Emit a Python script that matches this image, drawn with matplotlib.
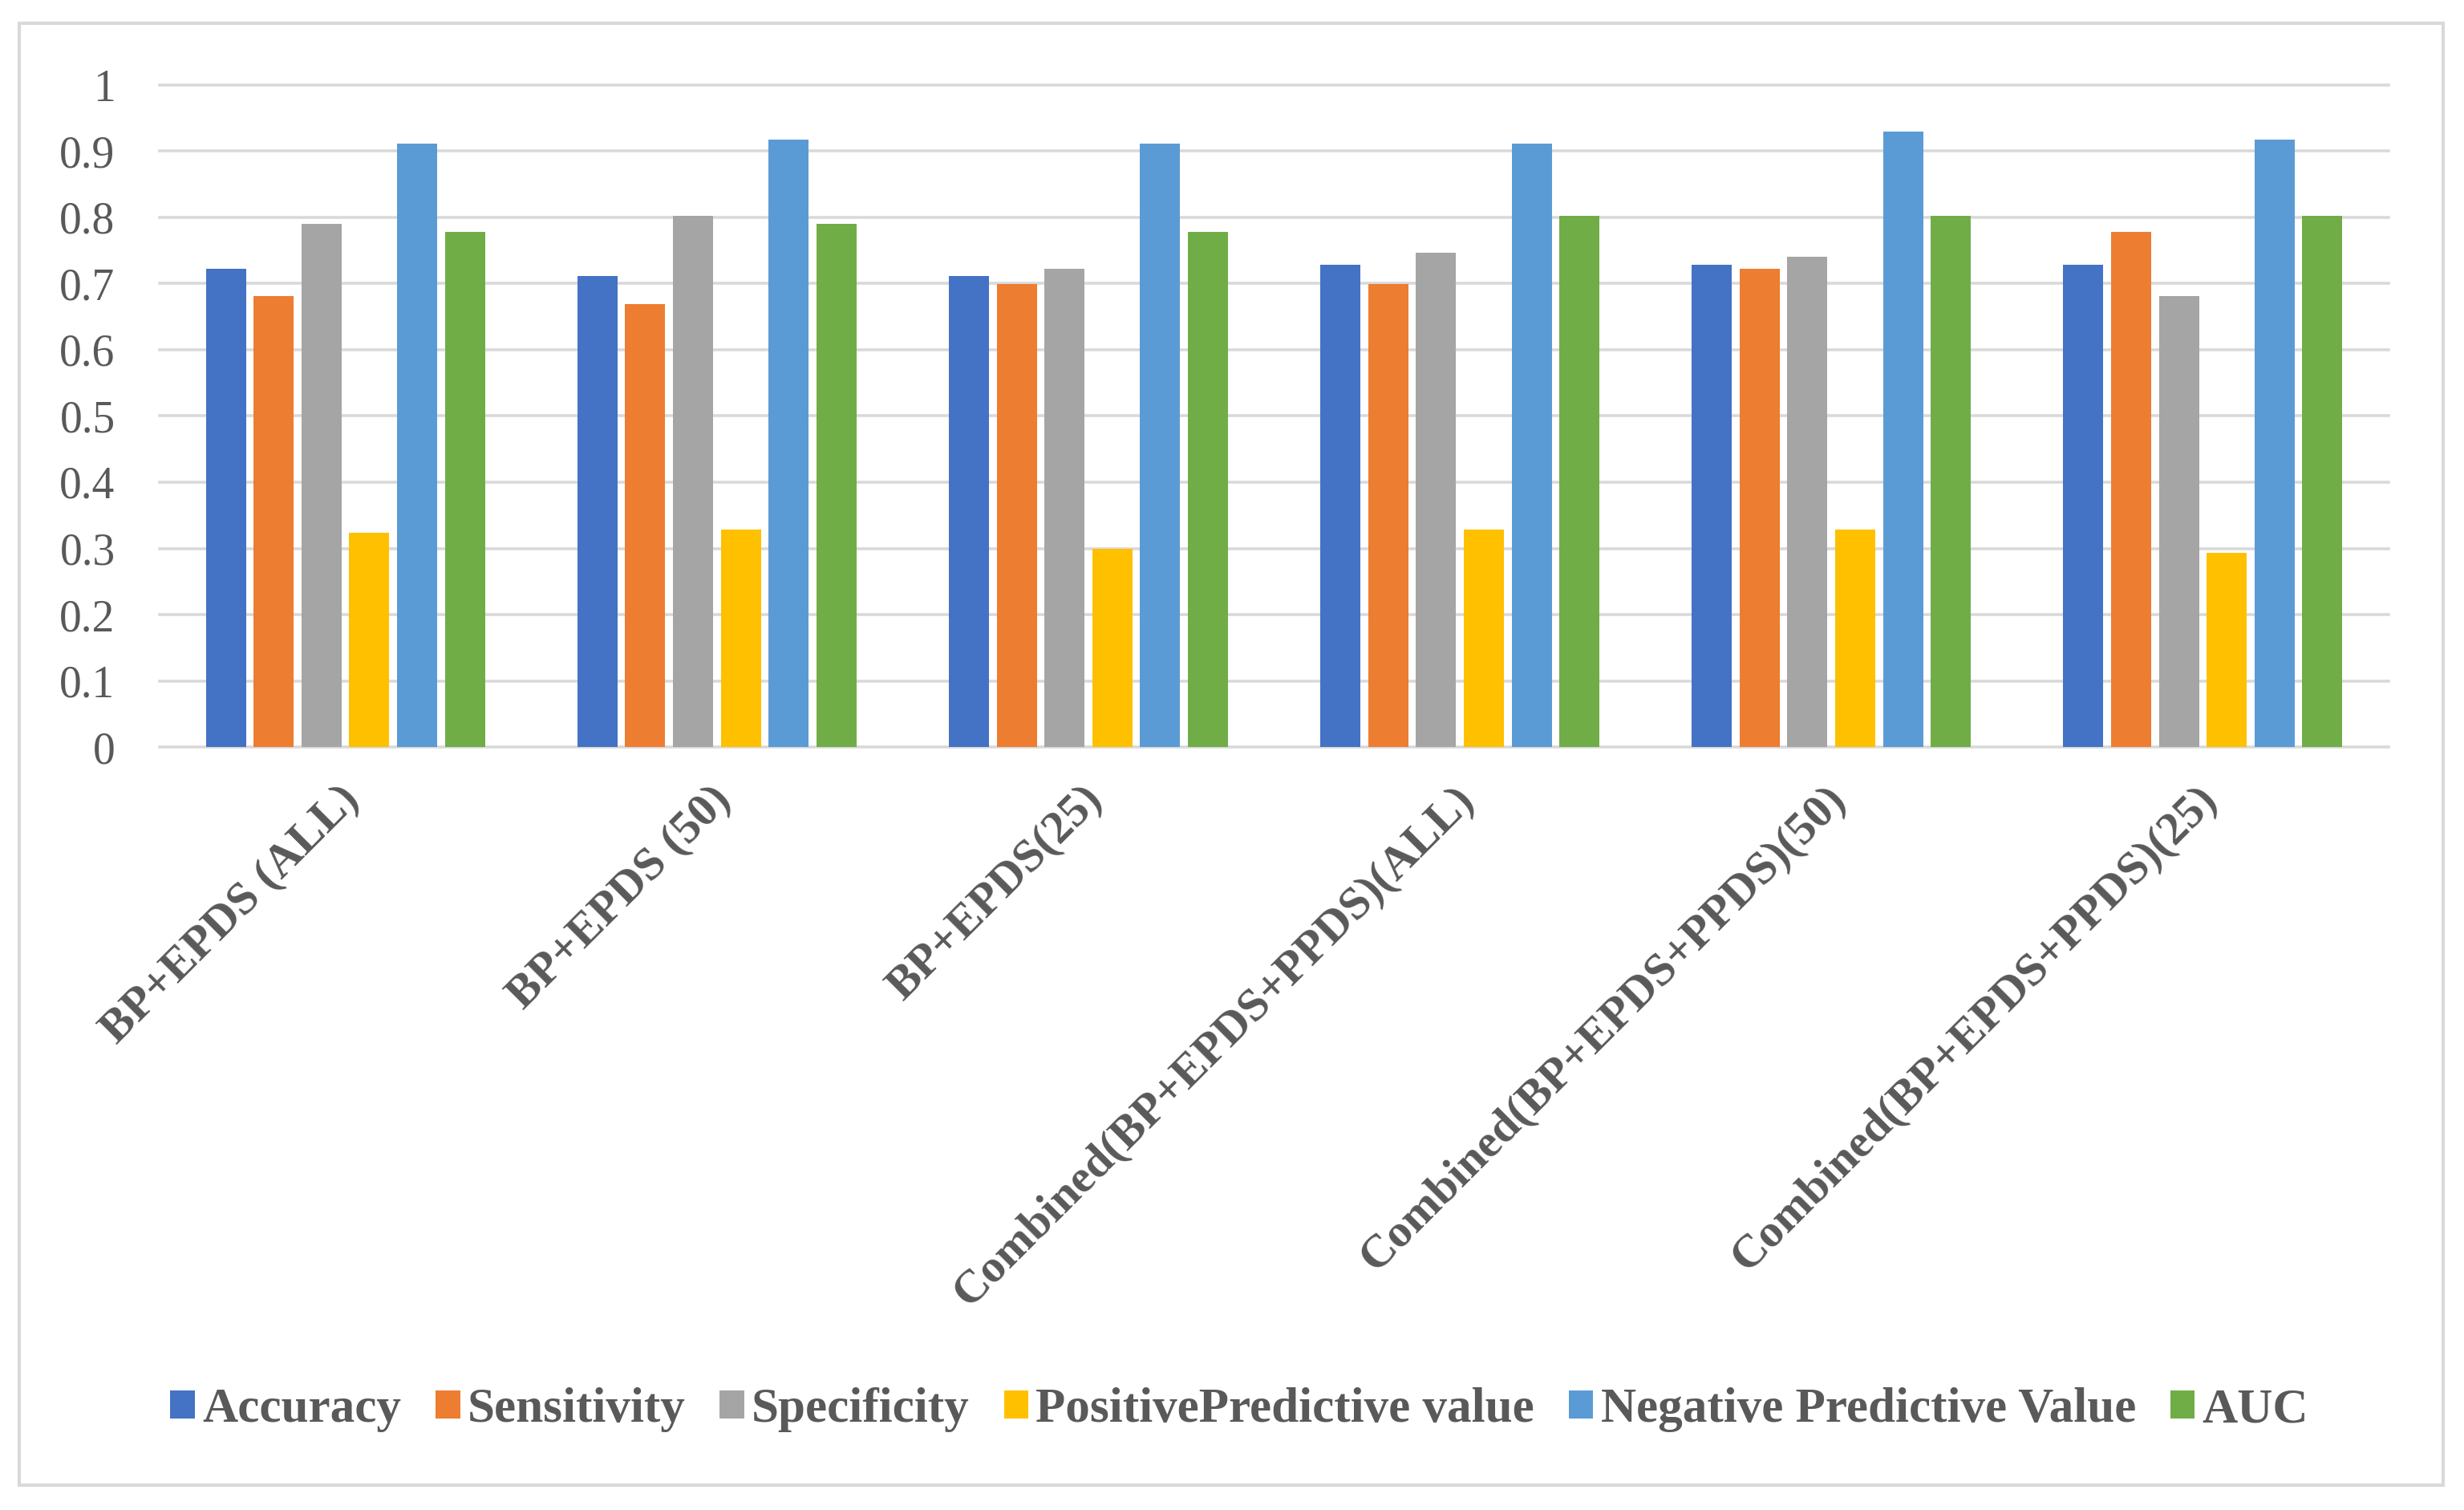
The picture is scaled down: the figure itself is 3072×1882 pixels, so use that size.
import numpy as np
import matplotlib
matplotlib.use("Agg")
import matplotlib.pyplot as plt
import matplotlib.transforms as mtransforms
from matplotlib.patches import Rectangle

# values
groups = ["BP+EPDS (ALL)", "BP+EPDS (50)", "BP+EPDS(25)",
          "Combined(BP+EPDS+PPDS)(ALL)", "Combined(BP+EPDS+PPDS)(50)",
          "Combined(BP+EPDS+PPDS)(25)"]
metrics = ["Accuracy", "Sensitivity", "Specificity", "PositivePredictive value",
           "Negative Predictive Value", "AUC"]

accuracy    = [0.723, 0.711, 0.711, 0.729, 0.729, 0.729]
sensitivity = [0.681, 0.669, 0.699, 0.699, 0.723, 0.778]
specificity = [0.790, 0.802, 0.723, 0.747, 0.741, 0.681]
ppv         = [0.324, 0.329, 0.299, 0.329, 0.329, 0.293]
npv         = [0.912, 0.917, 0.912, 0.912, 0.930, 0.917]
auc         = [0.778, 0.790, 0.778, 0.802, 0.802, 0.802]

series = [accuracy, sensitivity, specificity, ppv, npv, auc]
colors = ["#4472C4", "#ED7D31", "#A5A5A5", "#FFC000", "#5B9BD5", "#70AD47"]

FONT = "Liberation Serif"
TXT = "#595959"
GRID = "#D9D9D9"

fig = plt.figure(figsize=(15.36, 9.41), dpi=200)
ax = fig.add_axes([0.0648, 0.5053, 0.9046, 0.4384])

x = np.arange(len(groups))
pitch = 0.1287
width = 0.108
for i, (vals, c) in enumerate(zip(series, colors)):
    offs = (i - 2.5) * pitch
    ax.bar(x + offs, vals, width=width, color=c, label=metrics[i], zorder=3)

ax.set_xlim(-0.5, len(groups) - 0.5)
ax.set_ylim(0, 1)
ax.set_yticks(np.arange(0, 1.01, 0.1))
ax.set_yticklabels(["0", "0.1", "0.2", "0.3", "0.4", "0.5", "0.6", "0.7", "0.8", "0.9", "1"])
for yv in np.arange(0, 1.01, 0.1):
    ax.axhline(yv, color=GRID, lw=1.3, zorder=1, clip_on=False)

for s in ax.spines.values():
    s.set_visible(False)
ax.tick_params(axis="both", length=0)
ax.tick_params(axis="y", pad=20, labelsize=20, labelcolor=TXT)
ax.set_xticks(x)
ax.set_xticklabels(groups, rotation=45, ha="right", rotation_mode="default",
                   fontsize=21, color=TXT, fontweight="bold", family=FONT)
ax.tick_params(axis="x", pad=14)
shift = mtransforms.ScaledTranslation(0.14, 0, fig.dpi_scale_trans)
for lab in ax.get_xticklabels():
    lab.set_transform(lab.get_transform() + shift)
for lab in ax.get_yticklabels():
    lab.set_family(FONT)

leg = fig.legend(loc="center", bbox_to_anchor=(0.503, 0.0664), ncol=6, frameon=False,
                 handlelength=0.5, handleheight=0.5, handletextpad=0.15,
                 columnspacing=0.7, prop={"family": FONT, "size": 22, "weight": "bold"})
for t in leg.get_texts():
    t.set_color(TXT)

# outer chart border
fig.patches.append(Rectangle((24 / 3072, 1 - 1851 / 1882), (3046 - 24) / 3072,
                             (1851 - 29) / 1882, transform=fig.transFigure,
                             fill=False, edgecolor=GRID, lw=1.5))

fig.savefig("out.png", dpi=200, facecolor="white")
